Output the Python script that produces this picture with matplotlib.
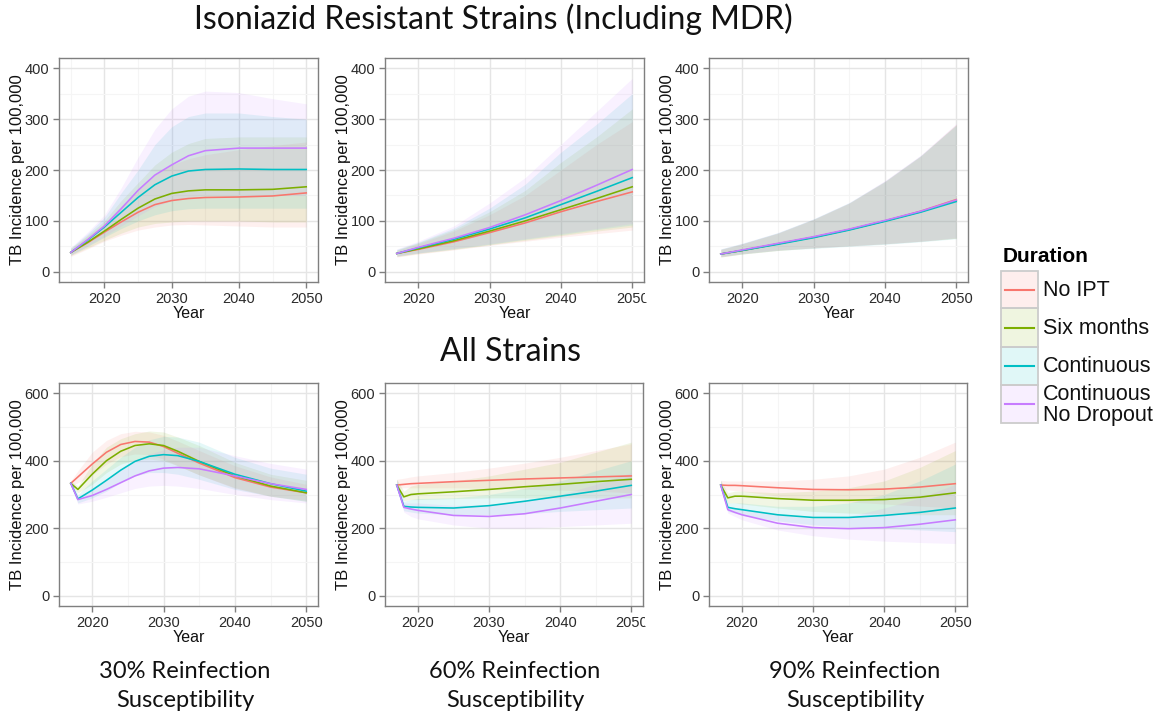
import matplotlib
matplotlib.use("Agg")
import matplotlib.pyplot as plt
from matplotlib.patches import Rectangle
from matplotlib.ticker import MultipleLocator

plt.rcParams['font.family'] = ['Liberation Sans', 'DejaVu Sans']

labels = ['No IPT', 'Six months', 'Continuous', 'Continuous\nNo Dropout']
colors = ['#F8766D', '#7CAE00', '#00BFC4', '#C77CFF']

# --- top row: isoniazid resistant strains ---
tl_years = [2015, 2017.5, 2020, 2022.5, 2025, 2027.5, 2030, 2032.5, 2035, 2040, 2045, 2050]
tl_mid = [[38, 57, 78, 98, 117, 132, 140, 144, 146, 147, 149, 155],
          [38, 58, 80, 103, 125, 143, 154, 159, 161, 161, 162, 167],
          [38, 62, 88, 117, 146, 171, 188, 198, 201, 202, 201, 201],
          [38, 63, 90, 124, 160, 190, 210, 228, 238, 243, 243, 243]]
tl_lo = [[30, 45, 60, 72, 82, 88, 92, 93, 92, 90, 88, 88],
         [32, 47, 62, 76, 88, 95, 98, 100, 100, 100, 98, 98],
         [33, 50, 68, 85, 100, 112, 120, 124, 125, 125, 125, 125],
         [33, 51, 70, 90, 110, 128, 140, 147, 150, 150, 150, 150]]
tl_hi = [[45, 70, 95, 130, 160, 190, 210, 222, 230, 240, 248, 255],
         [46, 72, 100, 140, 175, 210, 235, 252, 262, 265, 265, 265],
         [47, 75, 107, 155, 200, 250, 285, 305, 312, 312, 305, 300],
         [48, 78, 112, 165, 225, 280, 320, 345, 355, 352, 340, 330]]

tm_years = [2017, 2020, 2025, 2030, 2035, 2040, 2045, 2050]
tm_mid = [[36, 44, 59, 77, 96, 118, 138, 157],
          [36, 45, 61, 80, 100, 122, 144, 167],
          [36, 47, 64, 84, 106, 132, 158, 185],
          [36, 48, 66, 87, 112, 140, 170, 201]]
tm_lo = [[29, 35, 43, 52, 60, 68, 75, 82],
         [30, 36, 44, 53, 62, 71, 80, 88],
         [31, 37, 45, 54, 64, 73, 83, 92],
         [31, 37, 46, 55, 65, 75, 85, 95]]
tm_hi = [[42, 55, 80, 112, 150, 200, 250, 295],
         [43, 57, 83, 118, 160, 215, 265, 320],
         [44, 58, 86, 125, 172, 235, 290, 350],
         [45, 60, 90, 135, 185, 250, 315, 380]]

tr_years = [2017, 2020, 2025, 2030, 2035, 2040, 2045, 2050]
tr_mid = [[35, 42, 55, 68, 83, 100, 119, 142],
          [35, 42, 55, 68, 83, 100, 118, 140],
          [35, 42, 54, 67, 82, 99, 117, 138],
          [35, 43, 56, 69, 84, 101, 119, 141]]
tr_lo = [[29, 35, 42, 47, 51, 55, 60, 66],
         [29, 35, 42, 47, 51, 55, 60, 66],
         [30, 35, 42, 46, 50, 54, 59, 65],
         [30, 36, 43, 47, 51, 55, 60, 67]]
tr_hi = [[44, 55, 76, 103, 135, 178, 228, 290],
         [44, 55, 76, 103, 135, 177, 227, 289],
         [45, 56, 77, 104, 136, 178, 228, 288],
         [45, 56, 77, 104, 136, 179, 229, 291]]

# --- bottom row: all strains ---
bl_years = [2017, 2018, 2020, 2022, 2024, 2026, 2028, 2030, 2032, 2035, 2040, 2045, 2050]
bl_mid = [[333, 352, 390, 425, 448, 457, 455, 442, 422, 393, 350, 322, 305],
          [333, 315, 360, 400, 428, 445, 450, 445, 428, 398, 355, 325, 305],
          [333, 287, 313, 342, 372, 398, 413, 418, 415, 398, 360, 332, 310],
          [333, 285, 297, 315, 335, 355, 370, 378, 380, 376, 355, 332, 315]]
bl_lo = [[326, 335, 358, 390, 412, 420, 418, 405, 385, 358, 318, 295, 283],
         [326, 305, 330, 365, 390, 402, 405, 400, 385, 358, 320, 295, 280],
         [326, 275, 290, 310, 335, 355, 365, 365, 360, 345, 315, 295, 280],
         [326, 272, 280, 292, 305, 318, 325, 327, 325, 318, 300, 285, 275]]
bl_hi = [[340, 370, 425, 460, 480, 487, 485, 475, 458, 430, 385, 352, 330],
         [340, 325, 390, 440, 465, 480, 488, 485, 470, 445, 395, 360, 342],
         [340, 300, 340, 375, 410, 440, 462, 472, 470, 455, 410, 378, 360],
         [340, 295, 318, 345, 372, 400, 420, 432, 440, 440, 415, 392, 375]]

bm_years = [2017, 2018, 2019, 2020, 2025, 2030, 2035, 2040, 2045, 2050]
bm_mid = [[328, 330, 332, 333, 338, 342, 346, 349, 352, 355],
          [328, 293, 300, 302, 308, 315, 323, 330, 338, 345],
          [328, 265, 263, 262, 260, 267, 280, 295, 310, 327],
          [328, 262, 257, 253, 238, 235, 243, 260, 280, 300]]
bm_lo = [[318, 320, 320, 320, 320, 318, 316, 313, 310, 305],
         [318, 282, 285, 285, 288, 290, 290, 290, 290, 290],
         [318, 252, 248, 245, 240, 240, 243, 250, 255, 260],
         [318, 248, 235, 228, 210, 200, 200, 205, 210, 215]]
bm_hi = [[345, 348, 352, 355, 365, 378, 393, 410, 430, 450],
         [345, 310, 325, 330, 340, 355, 375, 395, 425, 455],
         [345, 280, 285, 288, 290, 300, 318, 340, 370, 400],
         [345, 275, 275, 275, 268, 270, 283, 300, 330, 365]]

br_years = [2017, 2018, 2019, 2020, 2025, 2030, 2035, 2040, 2045, 2050]
br_mid = [[328, 327, 327, 326, 320, 315, 314, 316, 322, 332],
          [328, 290, 295, 295, 288, 283, 283, 285, 292, 305],
          [328, 262, 258, 255, 240, 232, 232, 238, 247, 260],
          [328, 255, 247, 240, 215, 202, 199, 202, 212, 225]]
br_lo = [[318, 314, 312, 310, 295, 285, 278, 272, 266, 260],
         [318, 275, 275, 272, 260, 250, 245, 242, 240, 240],
         [318, 250, 245, 238, 222, 210, 204, 200, 195, 190],
         [318, 245, 235, 225, 195, 178, 168, 162, 158, 155]]
br_hi = [[342, 340, 340, 340, 340, 345, 355, 375, 410, 455],
         [342, 305, 310, 310, 305, 310, 320, 340, 380, 430],
         [342, 275, 275, 275, 265, 265, 275, 300, 340, 390],
         [342, 265, 262, 258, 240, 230, 235, 260, 290, 330]]

panels = [
    (tl_years, tl_mid, tl_lo, tl_hi, [59, 58, 318, 282], 400, 100),
    (tm_years, tm_mid, tm_lo, tm_hi, [385, 58, 644, 282], 400, 100),
    (tr_years, tr_mid, tr_lo, tr_hi, [709, 58, 968, 282], 400, 100),
    (bl_years, bl_mid, bl_lo, bl_hi, [59, 383, 318, 606], 600, 200),
    (bm_years, bm_mid, bm_lo, bm_hi, [385, 383, 643, 606], 600, 200),
    (br_years, br_mid, br_lo, br_hi, [709, 383, 967, 606], 600, 200),
]

W, H = 1161, 716
fig = plt.figure(figsize=(W / 100, H / 100), dpi=100)

tick_col = '#2a2a2a'
for years, mid, lo, hi, box, ymax, ystep in panels:
    x0, y0, x1, y1 = box
    ax = fig.add_axes([x0 / W, 1 - y1 / H, (x1 - x0) / W, (y1 - y0) / H])
    for i in range(4):
        ax.fill_between(years, lo[i], hi[i], color=colors[i], alpha=0.105, lw=0)
    for i in range(4):
        ax.plot(years, mid[i], color=colors[i], lw=1.15)
    span = years[-1] - years[0]
    ax.set_xlim(years[0] - 0.05 * span, years[-1] + 0.05 * span)
    ax.set_ylim(-0.05 * ymax, 1.05 * ymax)
    ax.set_xticks([2020, 2030, 2040, 2050])
    ax.xaxis.set_minor_locator(MultipleLocator(5))
    ax.set_yticks(range(0, ymax + 1, ystep))
    ax.yaxis.set_minor_locator(MultipleLocator(ystep / 2))
    ax.grid(which='major', color='#E5E5E5', lw=1.0)
    ax.grid(which='minor', color='#F5F5F5', lw=0.8)
    ax.set_axisbelow(True)
    for s in ax.spines.values():
        s.set_color('#7F7F7F')
        s.set_linewidth(1.0)
    ax.tick_params(which='major', colors='#7F7F7F', labelcolor=tick_col,
                   labelsize=10.5, length=4.5, width=1, pad=2.5)
    ax.tick_params(which='minor', length=0)
    ax.set_xlabel('Year', fontsize=11.5, labelpad=0, color='#111111')
    ax.set_ylabel('TB Incidence per 100,000', fontsize=12, labelpad=0, color='#111111')

# headings
head = ['Lato', 'DejaVu Sans']
fig.text(493 / W, 1 - 19 / H, 'Isoniazid Resistant Strains (Including MDR)',
         ha='center', va='center', fontsize=23, family=head, color='#111111')
fig.text(510 / W, 1 - 352 / H, 'All Strains',
         ha='center', va='center', fontsize=23, family=head, color='#111111')
bottom_x = [185, 515, 855]
bottom_labels = ['30% Reinfection\nSusceptibility', '60% Reinfection\nSusceptibility',
                 '90% Reinfection\nSusceptibility']
for bx, txt in zip(bottom_x, bottom_labels):
    fig.text(bx / W, 1 - 686 / H, txt, ha='center', va='center', fontsize=17,
             family=head, color='#111111', linespacing=1.45)

# overlay in pixel space: legend and the pasted-panel edges
lax = fig.add_axes([0, 0, 1, 1])
lax.set_xlim(0, W)
lax.set_ylim(H, 0)
lax.axis('off')
# the middle panels' tick labels are cut by the neighbouring panel images
for top in (284, 608):
    lax.add_patch(Rectangle((645, top), 8, 18, facecolor='white', lw=0, zorder=5))

lax.text(1003, 256, 'Duration', fontsize=15, fontweight='bold', va='center', ha='left')
rows = [(271, 308), (308, 347), (347, 385), (385, 423)]
for (top, bot), c, lab in zip(rows, colors, labels):
    lax.add_patch(Rectangle((1001, top), 37, bot - top, facecolor=c, alpha=0.12, lw=0))
    lax.add_patch(Rectangle((1001, top), 37, bot - top, facecolor='none',
                            edgecolor='#CCCCCC', lw=1.3))
    cy = (top + bot) / 2
    lax.plot([1005, 1034], [cy, cy], color=c, lw=1.5)
    lax.text(1043, cy + 1, lab, fontsize=15.5, va='center', ha='left',
             linespacing=1.05, color='#111111')

fig.savefig('out.png', dpi=100)
